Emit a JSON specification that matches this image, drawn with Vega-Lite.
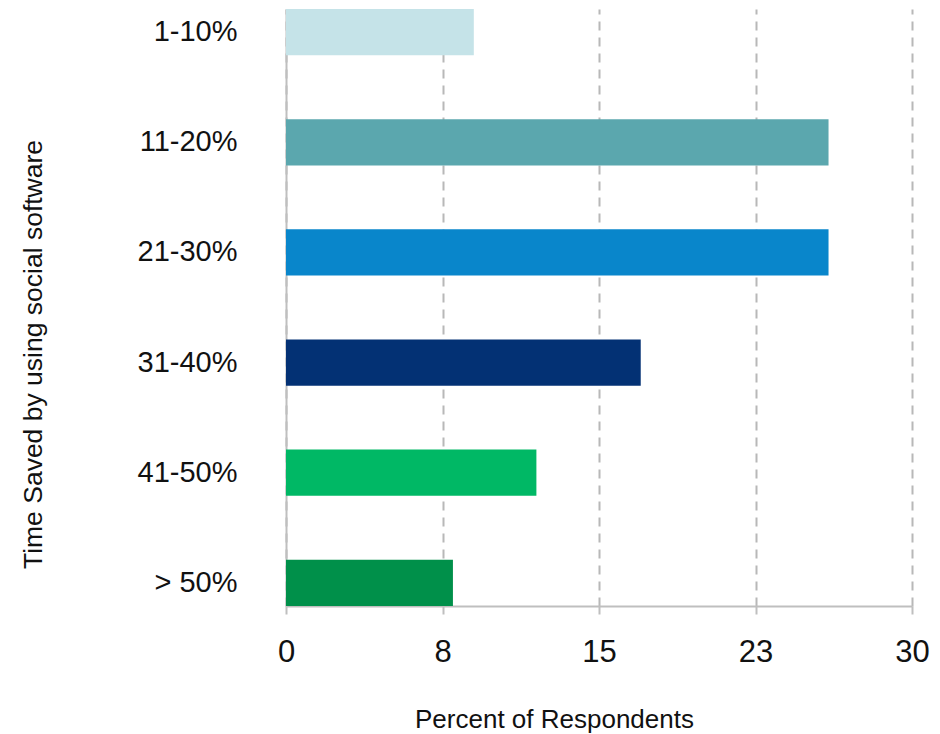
{
  "$schema": "https://vega.github.io/schema/vega-lite/v6.json",
  "width": 626,
  "height": 597,
  "autosize": {"type": "none"},
  "padding": {"left": 286, "top": 9, "right": 28, "bottom": 128},
  "background": "#ffffff",
  "config": {
    "view": {"stroke": null},
    "font": "Liberation Sans"
  },
  "data": {
    "values": [
      {"range": "1-10%", "percent": 9},
      {"range": "11-20%", "percent": 26},
      {"range": "21-30%", "percent": 26},
      {"range": "31-40%", "percent": 17},
      {"range": "41-50%", "percent": 12},
      {"range": "> 50%", "percent": 8}
    ]
  },
  "mark": {"type": "bar"},
  "encoding": {
    "y": {
      "field": "range",
      "type": "nominal",
      "sort": null,
      "scale": {"paddingInner": 0.58, "paddingOuter": 0},
      "axis": {
        "title": "Time Saved by using social software",
        "titleFont": "Liberation Sans",
        "titleFontSize": 26.5,
        "titleFontWeight": "normal",
        "titleColor": "#111111",
        "titleX": -253,
        "titleY": 345,
        "titleAngle": -90,
        "titleAlign": "center",
        "titleBaseline": "middle",
        "labelFont": "Liberation Sans",
        "labelFontSize": 29,
        "labelColor": "#111111",
        "labelPadding": 49,
        "ticks": false,
        "domain": true,
        "domainColor": "#bfbfbf",
        "domainWidth": 2,
        "grid": false
      }
    },
    "x": {
      "field": "percent",
      "type": "quantitative",
      "scale": {"domain": [0, 30], "nice": false},
      "axis": {
        "title": "Percent of Respondents",
        "titleFont": "Liberation Sans",
        "titleFontSize": 26,
        "titleFontWeight": "normal",
        "titleColor": "#111111",
        "titleX": 268,
        "titleAlign": "center",
        "titleAnchor": null,
        "titleY": 121,
        "titleBaseline": "alphabetic",
        "values": [0, 7.5, 15, 22.5, 30],
        "format": ".0f",
        "labelFont": "Liberation Sans",
        "labelFontSize": 31,
        "labelColor": "#111111",
        "labelPadding": 23,
        "labelFlush": false,
        "ticks": true,
        "tickSize": 8,
        "tickColor": "#bfbfbf",
        "tickWidth": 2,
        "domain": true,
        "domainColor": "#bfbfbf",
        "domainWidth": 2,
        "grid": true,
        "gridColor": "#b8b8b8",
        "gridWidth": 2,
        "gridDash": [9, 7]
      }
    },
    "color": {
      "field": "range",
      "type": "nominal",
      "sort": null,
      "scale": {
        "domain": ["1-10%", "11-20%", "21-30%", "31-40%", "41-50%", "> 50%"],
        "range": ["#c5e3e8", "#5ba7ae", "#0986cb", "#033174", "#00b865", "#00904a"]
      },
      "legend": null
    }
  }
}
